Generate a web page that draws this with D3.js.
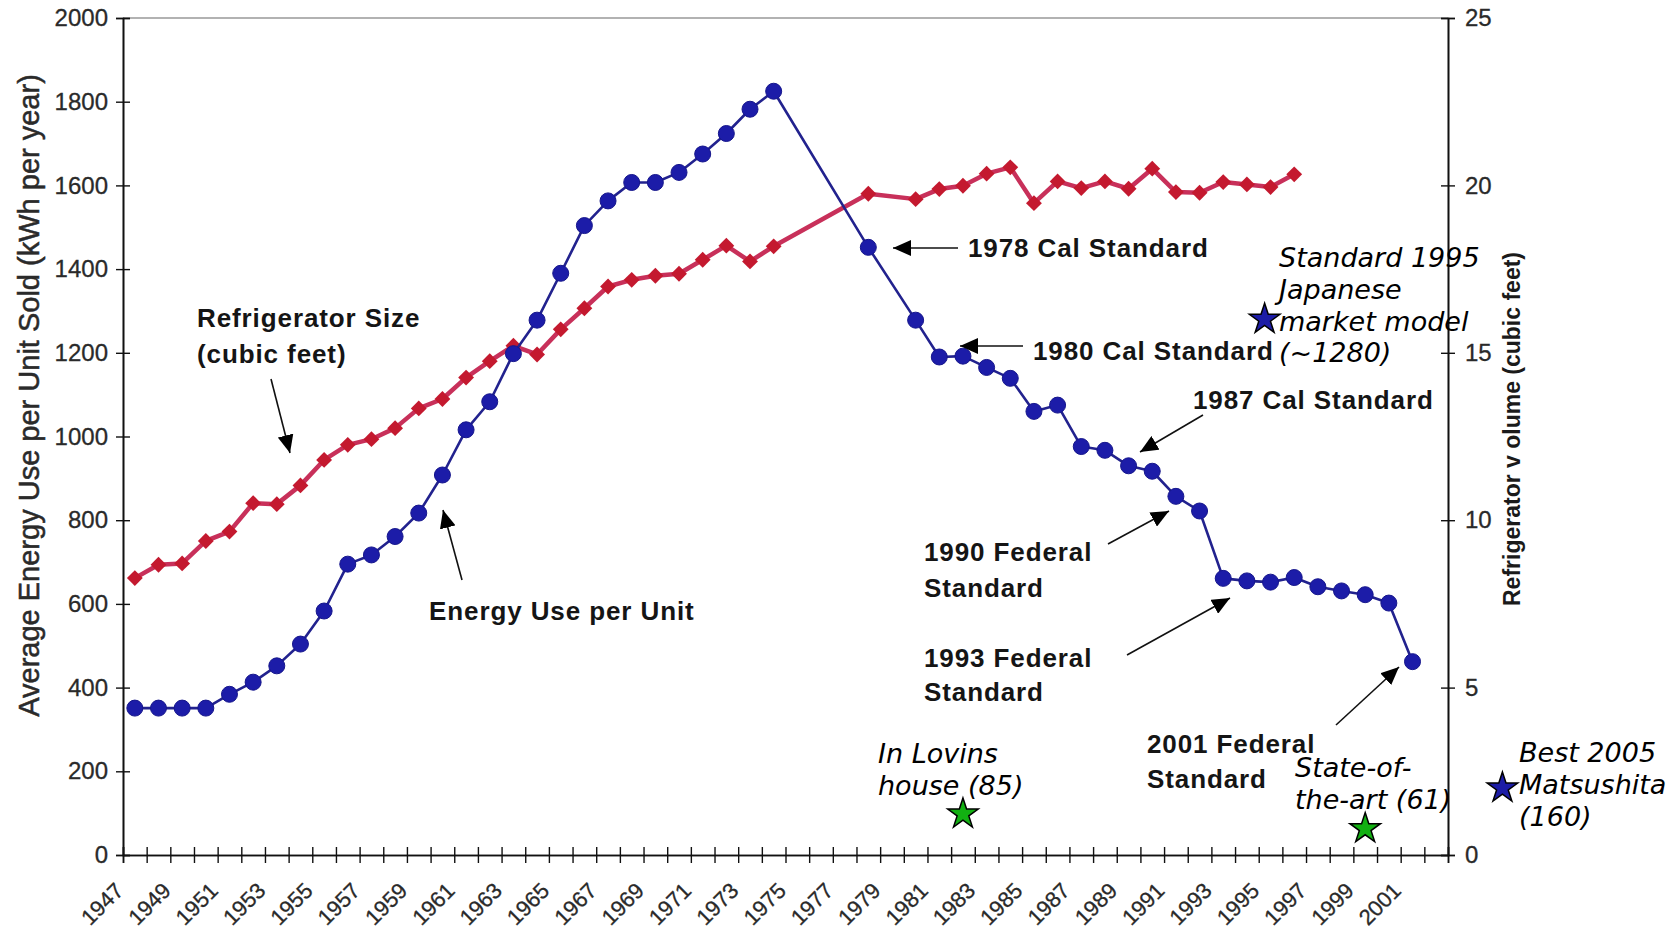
<!DOCTYPE html>
<html>
<head>
<meta charset="utf-8">
<script src="https://cdn.jsdelivr.net/npm/d3@7"></script>
<style>
  html, body { margin: 0; padding: 0; background: #fff; }
  svg { display: block; }
</style>
</head>
<body>
<svg id="chart" width="1679" height="935"></svg>
<script>
// ---------- DATA ----------
const yearLabels = ["1947","1949","1951","1953","1955","1957","1959","1961","1963","1965","1967","1969","1971","1973","1975","1977","1979","1981","1983","1985","1987","1989","1991","1993","1995","1997","1999","2001"];
const categoryFirst = 1947, categoryLast = 2002;

const energyYears = [1947,1948,1949,1950,1951,1952,1953,1954,1955,1956,1957,1958,1959,1960,1961,1962,1963,1964,1965,1966,1967,1968,1969,1970,1971,1972,1973,1974,1978,1980,1981,1982,1983,1984,1985,1986,1987,1988,1989,1990,1991,1992,1993,1994,1995,1996,1997,1998,1999,2000,2001];
const energyKWh  = [351,351,351,351,384,413,452,504,583,695,717,761,817,908,1016,1083,1198,1278,1390,1504,1563,1607,1607,1631,1675,1724,1782,1825,1452,1278,1190,1192,1165,1139,1060,1075,976,967,930,917,857,822,661,655,652,663,641,631,622,602,462];

const sizeYears = [1947,1948,1949,1950,1951,1952,1953,1954,1955,1956,1957,1958,1959,1960,1961,1962,1963,1964,1965,1966,1967,1968,1969,1970,1971,1972,1973,1974,1978,1980,1981,1982,1983,1984,1985,1986,1987,1988,1989,1990,1991,1992,1993,1994,1995,1996];
const sizeCuFt  = [8.27,8.67,8.71,9.38,9.66,10.51,10.48,11.04,11.8,12.25,12.42,12.75,13.34,13.62,14.26,14.75,15.21,14.95,15.7,16.33,16.98,17.18,17.3,17.36,17.78,18.2,17.73,18.18,19.75,19.59,19.89,19.99,20.35,20.54,19.47,20.12,19.92,20.12,19.9,20.5,19.8,19.78,20.1,20.03,19.95,20.33];

const leftTicks  = [0,200,400,600,800,1000,1200,1400,1600,1800,2000];
const rightTicks = [0,5,10,15,20,25];

const starYears  = [1994.75, 1982, 1999, 2004.8];
const starKWh    = [1280, 98, 63, 160];
const starColors = ["#1c1ca6", "#12b012", "#12b012", "#1c1ca6"];
const starLabels = [
  ["Standard 1995","Japanese","market model","(~1280)"],
  ["In Lovins","house (85)"],
  ["State-of-","the-art (61)"],
  ["Best 2005","Matsushita","(160)"]
];

// ---------- LAYOUT ----------
const L = 123, R = 1448, T = 18, B = 855;
const svg = d3.select("#chart");

const x  = d3.scaleLinear().domain([categoryFirst - 0.5, categoryLast + 0.5]).range([L, R]);
const yL = d3.scaleLinear().domain([0, 2000]).range([B, T]);
const yR = d3.scaleLinear().domain([0, 25]).range([B, T]);

// top border of plot area
svg.append("line").attr("x1", L).attr("x2", R).attr("y1", T).attr("y2", T)
  .attr("stroke", "#999").attr("stroke-width", 1.5);

const tickFont = "'Liberation Sans', Arial, sans-serif";

function styleAxis(g) {
  g.select(".domain").attr("stroke", "#111").attr("stroke-width", 1.6);
  g.selectAll(".tick line").attr("stroke", "#111").attr("stroke-width", 1.4);
  g.selectAll(".tick text").attr("fill", "#2a2a2a").attr("stroke", "#2a2a2a").attr("stroke-width", 0.3)
    .style("font-family", tickFont).style("font-size", "24px");
}

// left axis (cross ticks)
const gL = svg.append("g").attr("transform", `translate(${L},0)`)
  .call(d3.axisLeft(yL).tickValues(leftTicks).tickSize(7).tickPadding(8).tickFormat(d3.format("d")));
styleAxis(gL);
const gL2 = svg.append("g").attr("transform", `translate(${L},0)`)
  .call(d3.axisRight(yL).tickValues(leftTicks).tickSize(7).tickFormat(""));
styleAxis(gL2);

// right axis (cross ticks)
const gR = svg.append("g").attr("transform", `translate(${R},0)`)
  .call(d3.axisRight(yR).tickValues(rightTicks).tickSize(7).tickPadding(10));
styleAxis(gR);
const gR2 = svg.append("g").attr("transform", `translate(${R},0)`)
  .call(d3.axisLeft(yR).tickValues(rightTicks).tickSize(7).tickFormat(""));
styleAxis(gR2);

// bottom axis: category boundaries, cross ticks
const bounds = d3.range(categoryFirst - 0.5, categoryLast + 0.51, 1);
const gB = svg.append("g").attr("transform", `translate(0,${B})`)
  .call(d3.axisBottom(x).tickValues(bounds).tickSize(8).tickFormat(""));
styleAxis(gB);
const gB2 = svg.append("g").attr("transform", `translate(0,${B})`)
  .call(d3.axisTop(x).tickValues(bounds).tickSize(8).tickFormat(""));
styleAxis(gB2);

// year labels, rotated
svg.append("g").selectAll("text").data(yearLabels).join("text")
  .attr("transform", d => `translate(${x(+d) - 10},${B + 37}) rotate(-45)`)
  .attr("text-anchor", "end")
  .attr("fill", "#2a2a2a").attr("stroke", "#2a2a2a").attr("stroke-width", 0.3)
  .style("font-family", tickFont).style("font-size", "22px")
  .text(d => d);

// axis titles
svg.append("text")
  .attr("transform", `translate(39,${(T + B) / 2 - 41}) rotate(-90)`)
  .attr("text-anchor", "middle").attr("fill", "#2a2a2a").attr("stroke", "#2a2a2a").attr("stroke-width", 0.5)
  .style("font-family", tickFont).style("font-size", "29px")
  .text("Average Energy Use per Unit Sold (kWh per year)");

svg.append("text")
  .attr("transform", `translate(1520,429) rotate(-90)`)
  .attr("text-anchor", "middle").attr("fill", "#1a1a1a")
  .style("font-family", tickFont).style("font-size", "23px").style("font-weight", "bold")
  .text("Refrigerator v olume (cubic feet)");

// ---------- SERIES ----------
const sizeData = sizeYears.map((yr, i) => ({ yr, v: sizeCuFt[i] }));
const energyData = energyYears.map((yr, i) => ({ yr, v: energyKWh[i] }));

svg.append("path").datum(sizeData)
  .attr("fill", "none").attr("stroke", "#c8305a").attr("stroke-width", 4.5).attr("stroke-linejoin", "round")
  .attr("d", d3.line().x(d => x(d.yr)).y(d => yR(d.v)));
svg.append("g").selectAll("path").data(sizeData).join("path")
  .attr("transform", d => `translate(${x(d.yr)},${yR(d.v)})`)
  .attr("d", d3.symbol(d3.symbolDiamond2, 160)())
  .attr("fill", "#c4192f");

svg.append("path").datum(energyData)
  .attr("fill", "none").attr("stroke", "#22228e").attr("stroke-width", 2.6).attr("stroke-linejoin", "round")
  .attr("d", d3.line().x(d => x(d.yr)).y(d => yL(d.v)));
svg.append("g").selectAll("circle").data(energyData).join("circle")
  .attr("cx", d => x(d.yr)).attr("cy", d => yL(d.v)).attr("r", 8)
  .attr("fill", "#1c1ca8").attr("stroke", "#16168c").attr("stroke-width", 1);

// ---------- ANNOTATIONS ----------
const defs = svg.append("defs");
defs.append("marker").attr("id", "ah").attr("viewBox", "0 0 18 16")
  .attr("refX", 18).attr("refY", 8).attr("markerWidth", 18).attr("markerHeight", 16)
  .attr("markerUnits", "userSpaceOnUse").attr("orient", "auto")
  .append("path").attr("d", "M0,0 L18,8 L0,16 Z").attr("fill", "#000");

const arrows = [
  [271, 379, 290, 453],
  [462, 580, 443, 510],
  [958, 248, 893, 248],
  [1023, 346, 960, 346],
  [1203, 415, 1140, 452],
  [1108, 544, 1169, 511],
  [1127, 655, 1230, 598],
  [1336, 725, 1399, 667]
];
svg.append("g").selectAll("line").data(arrows).join("line")
  .attr("x1", d => d[0]).attr("y1", d => d[1]).attr("x2", d => d[2]).attr("y2", d => d[3])
  .attr("stroke", "#111").attr("stroke-width", 1.6).attr("marker-end", "url(#ah)");

const boldNotes = [
  ["Refrigerator Size", 197, 327], ["(cubic feet)", 197, 363],
  ["Energy Use per Unit", 429, 620],
  ["1978 Cal Standard", 968, 257],
  ["1980 Cal Standard", 1033, 360],
  ["1987 Cal Standard", 1193, 409],
  ["1990 Federal", 924, 561], ["Standard", 924, 597],
  ["1993 Federal", 924, 667], ["Standard", 924, 701],
  ["2001 Federal", 1147, 753], ["Standard", 1147, 788]
];
svg.append("g").selectAll("text").data(boldNotes).join("text")
  .attr("x", d => d[1]).attr("y", d => d[2])
  .attr("fill", "#151515")
  .style("font-family", tickFont).style("font-size", "26px").style("font-weight", "bold")
  .style("letter-spacing", "0.9px")
  .text(d => d[0]);

// stars
const starData = starYears.map((yr, i) => ({ yr, v: starKWh[i], c: starColors[i], lines: starLabels[i] }));
svg.append("g").selectAll("path").data(starData).join("path")
  .attr("transform", d => `translate(${x(d.yr)},${yL(d.v)})`)
  .attr("d", d3.symbol(d3.symbolStar, 290)())
  .attr("fill", d => d.c).attr("stroke", "#000").attr("stroke-width", 1.5);

// italic star labels
const starTextPos = [[1279, 267], [878, 763], [1295, 777], [1519, 762]];
const lh = 31.8;
const st = svg.append("g");
starData.forEach((d, i) => {
  const t = st.append("text")
    .attr("x", starTextPos[i][0]).attr("y", starTextPos[i][1])
    .attr("fill", "#000")
    .style("font-family", "'DejaVu Sans', Verdana, sans-serif").style("font-style", "italic")
    .style("font-size", "27px");
  d.lines.forEach((ln, j) => {
    t.append("tspan").attr("x", starTextPos[i][0]).attr("dy", j === 0 ? 0 : lh).text(ln);
  });
});
</script>
</body>
</html>
